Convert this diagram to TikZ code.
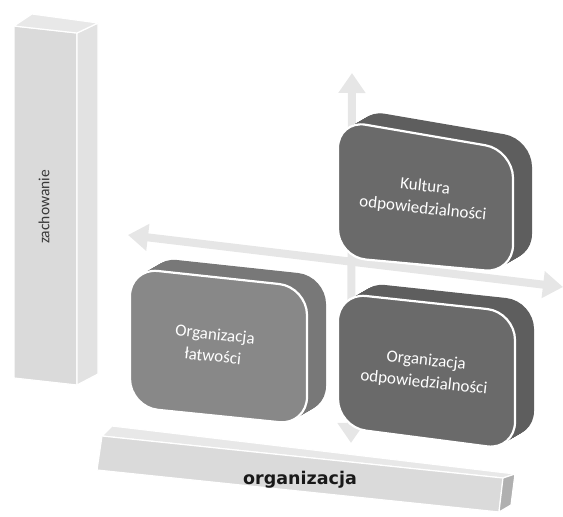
\documentclass[tikz,border=0pt]{standalone}
\usepackage{fontspec}
\setmainfont{Carlito}
\newfontfamily\axisfont{DejaVu Sans}
\usetikzlibrary{calc,arrows.meta}

\definecolor{barfront}{HTML}{DADADA}
\definecolor{barside}{HTML}{E2E2E2}
\definecolor{bartop}{HTML}{E8E8E8}
\definecolor{barend}{HTML}{B0B0B0}
\definecolor{axisgray}{HTML}{E6E6E6}
\definecolor{lightbox}{HTML}{888888}
\definecolor{lightdepth}{HTML}{787878}
\definecolor{darkbox}{HTML}{6A6A6A}
\definecolor{darkdepth}{HTML}{5E5E5E}

\tikzset{
  face/.style={fill=#1, draw=white, line width=1.2pt, line join=round},
  axis/.style={draw=axisgray, line width=8pt,
    {Triangle[width=26pt,length=20pt]}-{Triangle[width=26pt,length=20pt]}},
  boxtext/.style={text=white, align=center, rotate=-6,
    font=\fontsize{17}{22}\selectfont}
}

% one tile: corners #1..#4, face colour #5, depth colour #6
\newcommand{\slab}[6]{%
  \foreach \s in {0,1,...,20}
    \fill[#6, rounded corners=28pt, shift={(0.95*\s,-0.55*\s)}]
      ($(#1)!0.5!(#4)$) -- (#1) -- (#2) -- (#3) -- (#4) -- cycle;
  \draw[face=#5, line width=2.2pt, rounded corners=28pt]
      ($(#1)!0.5!(#4)$) -- (#1) -- (#2) -- (#3) -- (#4) -- cycle;
}

\begin{document}
\begin{tikzpicture}[x=1pt,y=-1pt]
		\useasboundingbox (0,0) rectangle (563,517);
		% vertical bar
		\draw[face=barfront] (14,26) -- (77,33) -- (77,385) -- (14,378) -- cycle;
		\draw[face=barside] (77,33) -- (98,23) -- (98,374) -- (77,385) -- cycle;
		\draw[face=bartop] (14,26) -- (32,14) -- (98,23) -- (77,33) -- cycle;
		\node[rotate=90, text=black!78, font=\fontsize{15.5}{18}\selectfont] (zach) at (44,207) {zachowanie};
		% horizontal bar
		\draw[face=bartop] (112,426) -- (515,474) -- (503,478) -- (102,436) -- cycle;
		\draw[face=barfront] (102,436) -- (503,478) -- (499,512) -- (97,470) -- cycle;
		\draw[face=barend] (503,478) -- (515,474) -- (511,505) -- (499,512) -- cycle;
		\node[text=black!90, font=\axisfont\bfseries\fontsize{17.5}{20}\selectfont] (org) at (300,480) {organizacja};
		% axes
		\coordinate (west) at (128,235);
		\coordinate (east) at (563,287);
		\coordinate (north) at (352,73);
		\coordinate (south) at (351,443);
		\draw[axis] (west) -- (east);
		\draw[axis] (north) -- (south);
		% tiles
		\slab{338,120}{513,150}{513,273}{338,257}{darkbox}{darkdepth}
		\slab{130,268}{307,287}{307,425}{130,407}{lightbox}{lightdepth}
		\slab{338,293}{515,312}{515,450}{338,427}{darkbox}{darkdepth}
		\node[boxtext] (kultura) at (424,198) {Kultura\\odpowiedzialności};
		\node[boxtext] (latwosci) at (214,345) {Organizacja\\łatwości};
		\node[boxtext] (odpow) at (425,372) {Organizacja\\odpowiedzialności};
\end{tikzpicture}
\end{document}
